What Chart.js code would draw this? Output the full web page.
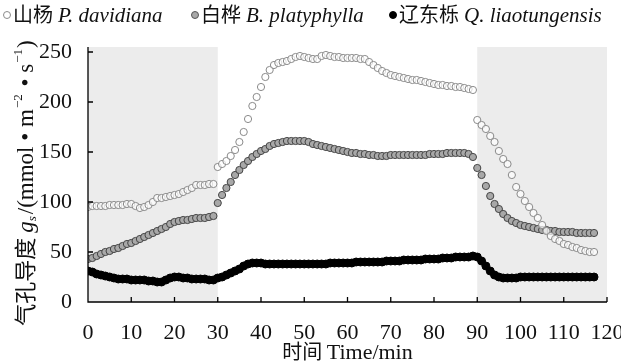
<!DOCTYPE html>
<html>
<head>
<meta charset="utf-8">
<script src="https://cdn.jsdelivr.net/npm/chart.js@4.4.0/dist/chart.umd.min.js"></script>
<style>
    html, body { margin: 0; padding: 0; background: #fff; }
    #wrap { width: 621px; height: 363px; }
</style>
</head>
<body>
<div id="wrap"><canvas id="gs-chart" width="621" height="363"></canvas></div>
<script>
// time in minutes (one reading per minute)
var minutes = [
    0, 1, 2, 3, 4, 5, 6, 7, 8, 9, 10, 11, 12, 13, 14, 15, 16, 17, 18, 19,
    20, 21, 22, 23, 24, 25, 26, 27, 28, 29, 30, 31, 32, 33, 34, 35, 36, 37, 38, 39,
    40, 41, 42, 43, 44, 45, 46, 47, 48, 49, 50, 51, 52, 53, 54, 55, 56, 57, 58, 59,
    60, 61, 62, 63, 64, 65, 66, 67, 68, 69, 70, 71, 72, 73, 74, 75, 76, 77, 78, 79,
    80, 81, 82, 83, 84, 85, 86, 87, 88, 89, 90, 91, 92, 93, 94, 95, 96, 97, 98, 99,
    100, 101, 102, 103, 104, 105, 106, 107, 108, 109, 110, 111, 112, 113, 114, 115, 116, 117
];

// 山杨 P. davidiana
var davidiana = [
    95, 96, 96, 96, 96, 97, 97, 97, 97, 98, 98, 96, 94, 95, 97, 100, 104, 104, 105, 106,
    107, 108, 110, 112, 114, 117, 117, 117, 118, 118, 135, 138, 141, 146, 152, 160, 170, 183, 196, 205,
    215, 225, 232, 237, 239, 240, 241, 243, 245, 246, 245, 244, 243, 243, 246, 247, 246, 245, 245, 244,
    244, 244, 244, 243, 243, 240, 237, 234, 231, 229, 227, 226, 225, 224, 223, 222, 222, 221, 220, 219,
    218, 217, 217, 216, 216, 215, 215, 214, 213, 212, 182, 177, 173, 166, 160, 151, 143, 138, 127, 115,
    108, 101, 95, 89, 84, 77, 71, 66, 63, 61, 58, 57, 55, 54, 52, 51, 50, 50
];

// 白桦 B. platyphylla
var platyphylla = [
    43, 44, 46, 48, 50, 51, 53, 54, 56, 58, 59, 61, 63, 65, 67, 69, 71, 73, 75, 78,
    80, 81, 82, 82, 83, 84, 84, 84, 85, 86, 99, 107, 114, 120, 127, 132, 137, 141, 145, 148,
    151, 153, 156, 158, 159, 160, 161, 161, 161, 161, 161, 160, 158, 157, 156, 155, 154, 153, 152, 151,
    150, 149, 149, 148, 148, 147, 147, 146, 146, 146, 147, 147, 147, 147, 147, 147, 147, 147, 147, 148,
    148, 148, 148, 149, 149, 149, 149, 149, 148, 145, 134, 127, 116, 106, 98, 93, 88, 84, 81, 79,
    77, 76, 75, 74, 73, 72, 72, 71, 71, 70, 70, 70, 70, 69, 69, 69, 69, 69
];

// 辽东栎 Q. liaotungensis
var liaotungensis = [
    31, 30, 28, 27, 26, 25, 24, 23, 23, 23, 22, 22, 22, 22, 21, 21, 20, 20, 22, 24,
    25, 25, 24, 24, 23, 23, 23, 23, 22, 22, 24, 25, 27, 29, 31, 33, 36, 38, 39, 39,
    39, 38, 38, 38, 38, 38, 38, 38, 38, 38, 38, 38, 38, 38, 38, 38, 39, 39, 39, 39,
    39, 39, 40, 40, 40, 40, 40, 40, 40, 41, 41, 41, 41, 42, 42, 42, 42, 42, 43, 43,
    43, 43, 44, 44, 44, 45, 45, 45, 45, 46, 45, 41, 36, 31, 27, 25, 24, 24, 24, 24,
    25, 25, 25, 25, 25, 25, 25, 25, 25, 25, 25, 25, 25, 25, 25, 25, 25, 25
];

var xTicks = [0, 10, 20, 30, 40, 50, 60, 70, 80, 90, 100, 110, 120];
var yTicks = [0, 50, 100, 150, 200, 250];
var darkPeriods = [[0, 30], [90, 120]];

var serif = '"Liberation Serif", "Times New Roman", serif';
var cjk = '"Noto Sans CJK SC", sans-serif';

function toPoints(values) {
    return values.map(function(v, i) { return { x: minutes[i], y: v }; });
}

function drawPieces(ctx, x, y, pieces) {
    pieces.forEach(function(p) {
        ctx.font = p.font;
        ctx.fillText(p.text, x, y + (p.dy || 0));
        x += ctx.measureText(p.text).width + (p.gap || 0);
    });
    return x;
}

function piecesWidth(ctx, pieces) {
    var w = 0;
    pieces.forEach(function(p) {
        ctx.font = p.font;
        w += ctx.measureText(p.text).width + (p.gap || 0);
    });
    return w;
}

var framePlugin = {
    id: 'frame',
    beforeDatasetsDraw: function(chart) {
        var ctx = chart.ctx, xs = chart.scales.x, area = chart.chartArea;
        ctx.save();
        ctx.fillStyle = '#ececec';
        darkPeriods.forEach(function(p) {
            var l = xs.getPixelForValue(p[0]), r = xs.getPixelForValue(p[1]);
            ctx.fillRect(l, area.top, r - l, area.bottom - area.top);
        });
        ctx.restore();
    },
    afterDraw: function(chart) {
        var ctx = chart.ctx, xs = chart.scales.x, ys = chart.scales.y, area = chart.chartArea;
        ctx.save();

        // axes with inward ticks
        ctx.strokeStyle = '#000';
        ctx.lineWidth = 1.3;
        ctx.beginPath();
        ctx.moveTo(area.left, area.top);
        ctx.lineTo(area.left, area.bottom);
        ctx.lineTo(area.right, area.bottom);
        xTicks.forEach(function(v) {
            var px = xs.getPixelForValue(v);
            ctx.moveTo(px, area.bottom);
            ctx.lineTo(px, area.bottom - 5);
        });
        yTicks.forEach(function(v) {
            var py = ys.getPixelForValue(v);
            ctx.moveTo(area.left, py);
            ctx.lineTo(area.left + 5, py);
        });
        ctx.stroke();

        ctx.fillStyle = '#111';
        ctx.textBaseline = 'alphabetic';
        ctx.textAlign = 'left';

        // x title
        var xt = [
            { text: '时间 ', font: '20px ' + cjk },
            { text: 'Time/min', font: '22px ' + serif }
        ];
        var xw = piecesWidth(ctx, xt);
        drawPieces(ctx, (area.left + area.right) / 2 - xw / 2, 359, xt);

        // y title, rotated
        var yt = [
            { text: '气孔导度 ', font: '22px ' + cjk },
            { text: 'g', font: 'italic 23px ' + serif },
            { text: 's', font: 'italic 13px ' + serif, dy: 3, gap: 2 },
            { text: '/(mmol • m', font: '23px ' + serif, gap: 1 },
            { text: '−2', font: '13px ' + serif, dy: -11, gap: 2 },
            { text: ' • s', font: '23px ' + serif, gap: 1 },
            { text: '−1', font: '13px ' + serif, dy: -11, gap: 1 },
            { text: ')', font: '23px ' + serif }
        ];
        var yw = piecesWidth(ctx, yt);
        ctx.save();
        ctx.translate(33, 183);
        ctx.rotate(-Math.PI / 2);
        drawPieces(ctx, -yw / 2, 0, yt);
        ctx.restore();

        // legend
        var items = [
            { x: 2, cn: '山杨', la: 'P. davidiana', fill: '#fff', edge: '#8a8a8a' },
            { x: 190, cn: '白桦', la: 'B. platyphylla', fill: '#a8a8a8', edge: '#555' },
            { x: 388, cn: '辽东栎', la: 'Q. liaotungensis', fill: '#000', edge: '#000' }
        ];
        items.forEach(function(it) {
            ctx.beginPath();
            ctx.arc(it.x + 5, 15, 3.5, 0, Math.PI * 2);
            ctx.fillStyle = it.fill;
            ctx.fill();
            ctx.lineWidth = 1;
            ctx.strokeStyle = it.edge;
            ctx.stroke();
            ctx.fillStyle = '#111';
            drawPieces(ctx, it.x + 11, 22, [
                { text: it.cn, font: '20px ' + cjk, gap: 5 },
                { text: it.la, font: 'italic 21px ' + serif }
            ]);
        });

        ctx.restore();
    }
};

var ctx = document.getElementById('gs-chart').getContext('2d');
var chart = new Chart(ctx, {
    type: 'scatter',
    data: {
        datasets: [{
            label: '山杨 P. davidiana',
            data: toPoints(davidiana),
            pointRadius: 3.6,
            pointBorderWidth: 1,
            pointBackgroundColor: 'rgba(255,255,255,0.7)',
            pointBorderColor: '#8a8a8a'
        }, {
            label: '白桦 B. platyphylla',
            data: toPoints(platyphylla),
            pointRadius: 3.6,
            pointBorderWidth: 1,
            pointBackgroundColor: '#a8a8a8',
            pointBorderColor: '#444'
        }, {
            label: '辽东栎 Q. liaotungensis',
            data: toPoints(liaotungensis),
            pointRadius: 4,
            pointBorderWidth: 1,
            pointBackgroundColor: '#000',
            pointBorderColor: '#000'
        }]
    },
    options: {
        responsive: false,
        animation: false,
        layout: { padding: { top: 47, right: 14, left: 0, bottom: 0 } },
        plugins: {
            legend: { display: false },
            tooltip: { enabled: false }
        },
        scales: {
            x: {
                type: 'linear',
                min: 0,
                max: 120,
                afterBuildTicks: function(scale) {
                    scale.ticks = xTicks.map(function(v) { return { value: v }; });
                },
                afterFit: function(scale) {
                    scale.height = 61;
                    scale.paddingLeft = 0;
                    scale.paddingRight = 0;
                },
                grid: { display: false },
                border: { display: false },
                ticks: {
                    padding: 10,
                    maxRotation: 0,
                    color: '#111',
                    font: { family: serif, size: 22 }
                }
            },
            y: {
                min: 0,
                max: 255,
                afterBuildTicks: function(scale) {
                    scale.ticks = yTicks.map(function(v) { return { value: v }; });
                },
                afterFit: function(scale) {
                    scale.width = 88;
                    scale.paddingTop = 0;
                    scale.paddingBottom = 0;
                },
                grid: { display: false },
                border: { display: false },
                ticks: {
                    padding: 8,
                    color: '#111',
                    font: { family: serif, size: 22 }
                }
            }
        }
    },
    plugins: [framePlugin]
});
</script>
</body>
</html>
